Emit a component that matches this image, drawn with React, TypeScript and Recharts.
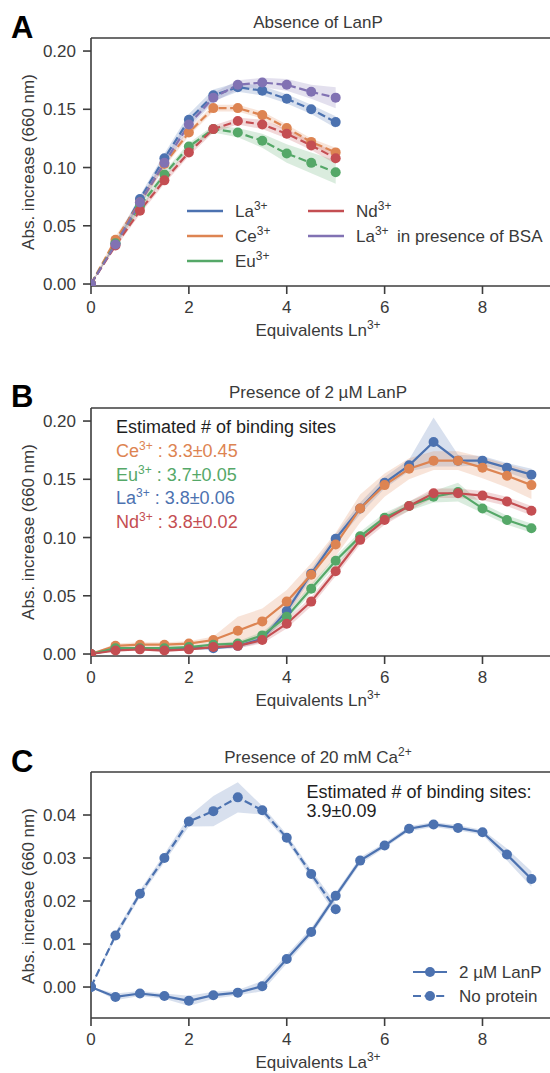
import { ComposedChart, Line, Area, XAxis, YAxis, ReferenceLine, Legend } from 'recharts';

// seaborn "deep" palette
const BLUE = '#4c72b0';
const ORANGE = '#dd8452';
const GREEN = '#55a868';
const RED = '#c44e52';
const PURPLE = '#8172b3';
const AXIS = '#3d3d3d';
const TXT = '#3a3a3a';
const FONT = '"Liberation Sans", Arial, Helvetica, sans-serif';

const CHART_W = 600;
const CHART_H = 340;
const X_DOMAIN = [0, 9.4];
const X_TICKS = [0, 2, 4, 6, 8];

// Panel A: absence of LanP
const xA = [0, 0.5, 1, 1.5, 2, 2.5, 3, 3.5, 4, 4.5, 5];
const aLa = [0, 0.035, 0.073, 0.108, 0.141, 0.162, 0.169, 0.166, 0.159, 0.150, 0.139];
const aCe = [0, 0.038, 0.070, 0.103, 0.130, 0.151, 0.151, 0.145, 0.134, 0.122, 0.113];
const aEu = [0, 0.035, 0.067, 0.094, 0.118, 0.133, 0.130, 0.123, 0.112, 0.104, 0.096];
const aNd = [0, 0.033, 0.063, 0.089, 0.113, 0.133, 0.140, 0.137, 0.129, 0.119, 0.108];
const aBsa = [0, 0.034, 0.070, 0.104, 0.137, 0.160, 0.171, 0.173, 0.171, 0.165, 0.160];
const aLaErr = [0, 0.002, 0.003, 0.004, 0.005, 0.005, 0.004, 0.004, 0.004, 0.004, 0.005];
const aCeErr = [0, 0.003, 0.003, 0.003, 0.003, 0.003, 0.003, 0.003, 0.003, 0.003, 0.004];
const aEuErr = [0, 0.002, 0.003, 0.003, 0.003, 0.003, 0.004, 0.006, 0.008, 0.009, 0.010];
const aNdErr = [0, 0.002, 0.003, 0.003, 0.003, 0.003, 0.003, 0.004, 0.004, 0.004, 0.005];
const aBsaErr = [0, 0.002, 0.003, 0.004, 0.004, 0.004, 0.004, 0.004, 0.005, 0.006, 0.009];

// Panel B: presence of 2 uM LanP
const xB = [0, 0.5, 1, 1.5, 2, 2.5, 3, 3.5, 4, 4.5, 5, 5.5, 6, 6.5, 7, 7.5, 8, 8.5, 9];
const bLa = [0, 0.004, 0.005, 0.004, 0.005, 0.005, 0.007, 0.013, 0.037, 0.069, 0.099, 0.125, 0.147, 0.162, 0.182, 0.166, 0.166, 0.160, 0.154];
const bCe = [0, 0.007, 0.008, 0.008, 0.009, 0.012, 0.020, 0.028, 0.045, 0.068, 0.094, 0.125, 0.145, 0.159, 0.166, 0.166, 0.160, 0.153, 0.145];
const bEu = [0, 0.005, 0.005, 0.005, 0.006, 0.008, 0.009, 0.016, 0.032, 0.056, 0.080, 0.101, 0.117, 0.127, 0.135, 0.139, 0.125, 0.115, 0.108];
const bNd = [0, 0.003, 0.004, 0.003, 0.004, 0.006, 0.007, 0.012, 0.026, 0.045, 0.071, 0.098, 0.115, 0.127, 0.138, 0.138, 0.136, 0.131, 0.123];
const bLaErr = [0, 0.001, 0.001, 0.001, 0.001, 0.001, 0.002, 0.003, 0.004, 0.004, 0.004, 0.005, 0.005, 0.005, 0.021, 0.005, 0.004, 0.004, 0.005];
const bCeErr = [0, 0.002, 0.002, 0.002, 0.002, 0.003, 0.012, 0.011, 0.010, 0.010, 0.010, 0.012, 0.010, 0.009, 0.008, 0.008, 0.009, 0.010, 0.012];
const bEuErr = [0, 0.001, 0.001, 0.001, 0.001, 0.001, 0.002, 0.003, 0.003, 0.004, 0.004, 0.004, 0.004, 0.004, 0.005, 0.008, 0.004, 0.004, 0.004];
const bNdErr = [0, 0.001, 0.001, 0.001, 0.001, 0.001, 0.002, 0.003, 0.004, 0.004, 0.004, 0.004, 0.004, 0.004, 0.004, 0.004, 0.004, 0.004, 0.004];

// Panel C: presence of 20 mM Ca2+
const xC = xB;
const cLanP = [0, -0.0023, -0.0015, -0.0021, -0.0032, -0.0019, -0.0013, 0.0002, 0.0065, 0.0128, 0.0212, 0.0294, 0.0329, 0.0368, 0.0378, 0.0370, 0.0360, 0.0308, 0.0251];
const cNone = [0, 0.0120, 0.0217, 0.0300, 0.0385, 0.0409, 0.0441, 0.0411, 0.0347, 0.0263, 0.0181];
const cLanPErr = [0, 0.0008, 0.0006, 0.0006, 0.0012, 0.0008, 0.0006, 0.0012, 0.0010, 0.0009, 0.0008, 0.0008, 0.0006, 0.0006, 0.0006, 0.0006, 0.0006, 0.0014, 0.0018];
const cNoneErr = [0, 0.0008, 0.0008, 0.0010, 0.0012, 0.0035, 0.0035, 0.0010, 0.0008, 0.0010, 0.0013];

type Series = { key: string; color: string; values: number[]; err: number[]; dashed: boolean };

const seriesA: Series[] = [
  { key: 'La', color: BLUE, values: aLa, err: aLaErr, dashed: true },
  { key: 'Ce', color: ORANGE, values: aCe, err: aCeErr, dashed: true },
  { key: 'Eu', color: GREEN, values: aEu, err: aEuErr, dashed: true },
  { key: 'Nd', color: RED, values: aNd, err: aNdErr, dashed: true },
  { key: 'Bsa', color: PURPLE, values: aBsa, err: aBsaErr, dashed: true },
];
const seriesB: Series[] = [
  { key: 'La', color: BLUE, values: bLa, err: bLaErr, dashed: false },
  { key: 'Ce', color: ORANGE, values: bCe, err: bCeErr, dashed: false },
  { key: 'Eu', color: GREEN, values: bEu, err: bEuErr, dashed: false },
  { key: 'Nd', color: RED, values: bNd, err: bNdErr, dashed: false },
];
const seriesC: Series[] = [
  { key: 'LanP', color: BLUE, values: cLanP, err: cLanPErr, dashed: false },
  { key: 'None', color: BLUE, values: cNone, err: cNoneErr, dashed: true },
];

function buildRows(xs: number[], series: Series[]) {
  return xs.map((x, i) => {
    const r: any = { x };
    series.forEach((s) => {
      const v = s.values[i];
      if (v !== undefined) {
        r[s.key] = v;
        r[s.key + 'Band'] = [v - s.err[i], v + s.err[i]];
      }
    });
    return r;
  });
}

const DASH = '8 3.6';

function axes(yDomain: number[], yTicks: number[]) {
  return [
    <XAxis key="x" type="number" dataKey="x" domain={X_DOMAIN} ticks={X_TICKS} allowDataOverflow
      height={30} tickSize={8} tickMargin={7} interval={0}
      axisLine={{ stroke: AXIS, strokeWidth: 1.6 }} tickLine={{ stroke: AXIS, strokeWidth: 1.6 }}
      tick={{ fill: TXT, fontSize: 17 }} />,
    <YAxis key="y" type="number" domain={yDomain} ticks={yTicks} allowDataOverflow width={60}
      tickSize={8} tickMargin={7} interval={0} tickFormatter={(v: number) => v.toFixed(2)}
      axisLine={{ stroke: AXIS, strokeWidth: 1.6 }} tickLine={{ stroke: AXIS, strokeWidth: 1.6 }}
      tick={{ fill: TXT, fontSize: 17 }} />,
    <ReferenceLine key="top" y={yDomain[1]} stroke={AXIS} strokeWidth={1.6} />,
  ];
}

function layers(series: Series[]) {
  return series.flatMap((s) => [
    <Area key={s.key + 'Band'} type="linear" dataKey={s.key + 'Band'} stroke="none" fill={s.color}
      fillOpacity={0.22} activeDot={false} legendType="none" isAnimationActive={false} />,
    <Line key={s.key} type="linear" dataKey={s.key} stroke={s.color} strokeWidth={2.2}
      strokeDasharray={s.dashed ? DASH : undefined}
      dot={{ r: 5, fill: s.color, stroke: s.color, strokeWidth: 0 }} activeDot={false}
      isAnimationActive={false} />,
  ]);
}

function Sup({ x, y, base, sup, rest, ...props }: any) {
  return (
    <text x={x} y={y} {...props}>
      {base}
      <tspan dy={-7} fontSize={12}>{sup}</tspan>
      {rest ? <tspan dy={7}>{rest}</tspan> : null}
    </text>
  );
}

function LegendA() {
  const rows = [
    { c: BLUE, t: 'La', x: 0, y: 16 },
    { c: ORANGE, t: 'Ce', x: 0, y: 41 },
    { c: GREEN, t: 'Eu', x: 0, y: 66 },
    { c: RED, t: 'Nd', x: 121, y: 16 },
    { c: PURPLE, t: 'La', x: 121, y: 41, extra: 'in presence of BSA' },
  ];
  return (
    <svg width={380} height={80} style={{ display: 'block', fontFamily: FONT }}>
      {rows.map((r, i) => (
        <g key={i}>
          <line x1={r.x + 7} x2={r.x + 43} y1={r.y} y2={r.y} stroke={r.c} strokeWidth={2.4} />
          <Sup x={r.x + 55} y={r.y + 6} base={r.t} sup="3+" fontSize={17} fill={TXT} />
          {r.extra ? <text x={r.x + 96} y={r.y + 6} fontSize={17} fill={TXT}>{r.extra}</text> : null}
        </g>
      ))}
    </svg>
  );
}

function LegendC() {
  const rows = [
    { t: '2 µM LanP', dash: undefined, y: 17 },
    { t: 'No protein', dash: DASH, y: 41 },
  ];
  return (
    <svg width={160} height={60} style={{ display: 'block', fontFamily: FONT }}>
      {rows.map((r, i) => (
        <g key={i}>
          <line x1={13} x2={47} y1={r.y} y2={r.y} stroke={BLUE} strokeWidth={2.2} strokeDasharray={r.dash} />
          <circle cx={30} cy={r.y} r={5} fill={BLUE} />
          <text x={59} y={r.y + 6} fontSize={17} fill={TXT}>{r.t}</text>
        </g>
      ))}
    </svg>
  );
}

function YLabel() {
  return (
    <text x={0} y={0} transform="translate(33.5,162) rotate(-90)" textAnchor="middle" fontSize={17} fill={TXT}>
      Abs. increase (660 nm)
    </text>
  );
}

const overlayStyle: any = { position: 'absolute', left: 0, top: 0, pointerEvents: 'none', fontFamily: FONT };

export default function App() {
  const rowsA = buildRows(xA, seriesA);
  const rowsB = buildRows(xB, seriesB);
  const rowsC = buildRows(xC, seriesC);
  const yDomAB = [-0.0017, 0.2112];
  const yTicksAB = [0, 0.05, 0.1, 0.15, 0.2];

  return (
    <div style={{ position: 'absolute', left: 0, top: 0, width: 550, height: 1073, overflow: 'hidden', background: '#fff', fontFamily: FONT }}>
      {/* A */}
      <div style={{ position: 'absolute', left: 0, top: 0, width: CHART_W, height: CHART_H }}>
        <ComposedChart width={CHART_W} height={CHART_H} data={rowsA} margin={{ top: 38, right: 49, left: 31, bottom: 24 }}>
          {axes(yDomAB, yTicksAB)}
          {layers(seriesA)}
          <Legend layout="horizontal" verticalAlign="middle" align="center"
            wrapperStyle={{ left: 180, top: 195, width: 380, height: 80 }} content={() => <LegendA />} />
        </ComposedChart>
        <svg width={550} height={CHART_H} style={overlayStyle}>
          <text x={11} y={38} fontSize={31} fontWeight="bold" fill="#000">A</text>
          <text x={318} y={28} textAnchor="middle" fontSize={17} fill={TXT}>Absence of LanP</text>
          <YLabel />
          <Sup x={318} y={336} base="Equivalents Ln" sup="3+" textAnchor="middle" fontSize={17} fill={TXT} />
        </svg>
      </div>

      {/* B */}
      <div style={{ position: 'absolute', left: 0, top: 370, width: CHART_W, height: CHART_H }}>
        <ComposedChart width={CHART_W} height={CHART_H} data={rowsB} margin={{ top: 38, right: 49, left: 31, bottom: 24 }}>
          {axes(yDomAB, yTicksAB)}
          {layers(seriesB)}
        </ComposedChart>
        <svg width={550} height={CHART_H} style={overlayStyle}>
          <text x={11} y={37} fontSize={31} fontWeight="bold" fill="#000">B</text>
          <text x={318} y={28} textAnchor="middle" fontSize={17} fill={TXT}>Presence of 2 µM LanP</text>
          <YLabel />
          <Sup x={318} y={336} base="Equivalents Ln" sup="3+" textAnchor="middle" fontSize={17} fill={TXT} />
          <text x={116} y={63} fontSize={18} fill="#1e1e1e">Estimated # of binding sites</text>
          <Sup x={116} y={87} base="Ce" sup="3+" rest=" : 3.3±0.45" fontSize={18} fill={ORANGE} />
          <Sup x={116} y={110.5} base="Eu" sup="3+" rest=" : 3.7±0.05" fontSize={18} fill={GREEN} />
          <Sup x={116} y={134} base="La" sup="3+" rest=" : 3.8±0.06" fontSize={18} fill={BLUE} />
          <Sup x={116} y={157.5} base="Nd" sup="3+" rest=" : 3.8±0.02" fontSize={18} fill={RED} />
        </svg>
      </div>

      {/* C */}
      <div style={{ position: 'absolute', left: 0, top: 734, width: CHART_W, height: CHART_H }}>
        <ComposedChart width={CHART_W} height={CHART_H} data={rowsC} margin={{ top: 38, right: 49, left: 31, bottom: 26 }}>
          {axes([-0.0072, 0.05], [0, 0.01, 0.02, 0.03, 0.04])}
          {layers(seriesC)}
          <Legend layout="horizontal" verticalAlign="middle" align="center"
            wrapperStyle={{ left: 400, top: 221, width: 160, height: 60 }} content={() => <LegendC />} />
        </ComposedChart>
        <svg width={550} height={CHART_H} style={overlayStyle}>
          <text x={11} y={38} fontSize={31} fontWeight="bold" fill="#000">C</text>
          <Sup x={318} y={29} base="Presence of 20 mM Ca" sup="2+" textAnchor="middle" fontSize={17} fill={TXT} />
          <YLabel />
          <Sup x={318} y={334} base="Equivalents La" sup="3+" textAnchor="middle" fontSize={17} fill={TXT} />
          <text x={306.5} y={64} fontSize={18} fill="#1e1e1e">Estimated # of binding sites:</text>
          <text x={306.5} y={83} fontSize={18} fill="#1e1e1e">3.9±0.09</text>
        </svg>
      </div>
    </div>
  );
}
